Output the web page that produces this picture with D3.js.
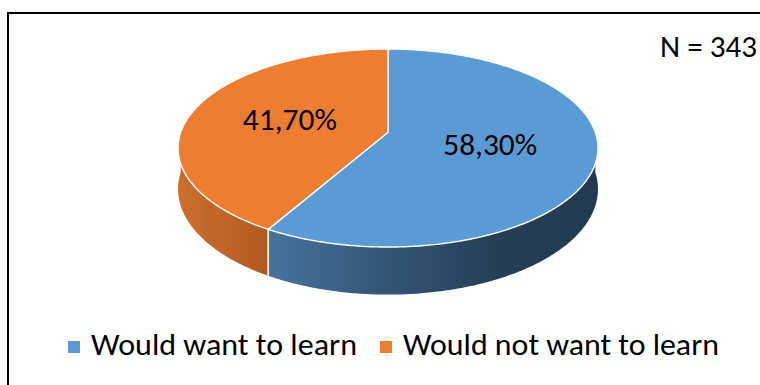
<!DOCTYPE html>
<html>
<head>
<meta charset="utf-8">
<script src="https://cdn.jsdelivr.net/npm/d3@7/dist/d3.min.js"></script>
<style>
  html, body { margin: 0; padding: 0; background: #fff; }
  svg { display: block; }
  text { font-family: Calibri, Carlito, "Liberation Sans", Arial, sans-serif; fill: #000; }
</style>
</head>
<body>
<svg id="chart" width="760" height="385"></svg>
<script>
// Survey answers
const categories = ["Would want to learn", "Would not want to learn"];
const values = [58.3, 41.7];
const valueLabels = ["58,30%", "41,70%"];
const sampleNote = "N = 343";

// Styling
const topColors = ["#5B9BD5", "#ED7D31"];
const wallStops = [
  [[0, "#5485B3"], [0.21, "#46749D"], [0.45, "#355A7C"], [0.75, "#253F57"], [1, "#223A51"]],
  [[0, "#CD6F2D"], [0.21, "#B25A22"], [0.6, "#9A4D1C"], [1, "#8A4517"]]
];

const svg = d3.select("#chart");
const W = 760, H = 385;

// Frame around the chart area
svg.append("rect")
  .attr("x", 8).attr("y", 13)
  .attr("width", W + 20).attr("height", H + 20)
  .attr("fill", "none").attr("stroke", "#000").attr("stroke-width", 2);

// Tilted pie geometry with a light perspective
const cx = 388, cy = 132.3, rx = 207.3, ry = 96.5, k = 0.159, depth = 40;

function proj(theta, f = 1, drop = 0) {
  const u = f * Math.sin(theta), v = -f * Math.cos(theta);
  const s = 1 / (1 - k * v);
  return [cx + rx * u * s, cy + (ry * v + drop) * s];
}
function arcPoints(a0, a1, f = 1, drop = 0) {
  const n = Math.max(2, Math.ceil((a1 - a0) / 0.01));
  return d3.range(n + 1).map(i => proj(a0 + (a1 - a0) * i / n, f, drop));
}

const pie = d3.pie().sort(null).startAngle(0).endAngle(2 * Math.PI);
const arcs = pie(values);

const defs = svg.append("defs");
const xMin = cx - rx * 1.013, xMax = cx + rx * 1.013;
arcs.forEach((d, i) => {
  const g = defs.append("linearGradient")
    .attr("id", "wall" + i)
    .attr("gradientUnits", "userSpaceOnUse")
    .attr("x1", xMin).attr("x2", xMax).attr("y1", 0).attr("y2", 0);
  wallStops[i].forEach(([o, c]) => g.append("stop").attr("offset", o).attr("stop-color", c));
});

const line = d3.line();
const pieG = svg.append("g");

// Side walls (front half only)
arcs.forEach((d, i) => {
  const a0 = Math.max(d.startAngle, Math.PI / 2);
  const a1 = Math.min(d.endAngle, 3 * Math.PI / 2);
  if (a1 <= a0) return;
  const top = arcPoints(a0, a1);
  const bottom = arcPoints(a0, a1, 1, depth).reverse();
  pieG.append("path")
    .attr("d", line(top.concat(bottom)) + "Z")
    .attr("fill", `url(#wall${i})`);
});

// Slice edges on the wall
arcs.forEach(d => {
  [d.startAngle, d.endAngle].forEach(a => {
    if (a > Math.PI / 2 && a < 3 * Math.PI / 2) {
      pieG.append("path")
        .attr("d", line([proj(a), proj(a, 1, depth)]))
        .attr("stroke", "#f4f4f4").attr("stroke-width", 1.3).attr("fill", "none");
    }
  });
});

// Top faces
arcs.forEach((d, i) => {
  const pts = [proj(0, 0)].concat(arcPoints(d.startAngle, d.endAngle));
  pieG.append("path")
    .attr("d", line(pts) + "Z")
    .attr("fill", topColors[i])
    .attr("stroke", "#ffffff").attr("stroke-width", 1.4)
    .attr("stroke-linejoin", "round");
});

// Value labels (baseline placed half a cap height below the label point)
arcs.forEach((d, i) => {
  const mid = (d.startAngle + d.endAngle) / 2;
  const [x, y] = proj(mid, 0.5);
  svg.append("text")
    .attr("x", x).attr("y", y + 10)
    .attr("text-anchor", "middle")
    .attr("font-size", 31)
    .attr("textLength", 94).attr("lengthAdjust", "spacingAndGlyphs")
    .text(valueLabels[i]);
});

// Sample size
svg.append("text")
  .attr("x", 757).attr("y", 57)
  .attr("text-anchor", "end")
  .attr("font-size", 31)
  .attr("textLength", 97).attr("lengthAdjust", "spacingAndGlyphs")
  .text(sampleNote);

// Legend
const legendItems = [
  { sx: 68, tx: 91, tw: 266 },
  { sx: 380, tx: 403, tw: 316 }
];
categories.forEach((c, i) => {
  const it = legendItems[i];
  svg.append("rect")
    .attr("x", it.sx).attr("y", 341)
    .attr("width", 12).attr("height", 12)
    .attr("fill", topColors[i]);
  svg.append("text")
    .attr("x", it.tx).attr("y", 355)
    .attr("font-size", 31)
    .attr("textLength", it.tw).attr("lengthAdjust", "spacingAndGlyphs")
    .text(c);
});
</script>
</body>
</html>
